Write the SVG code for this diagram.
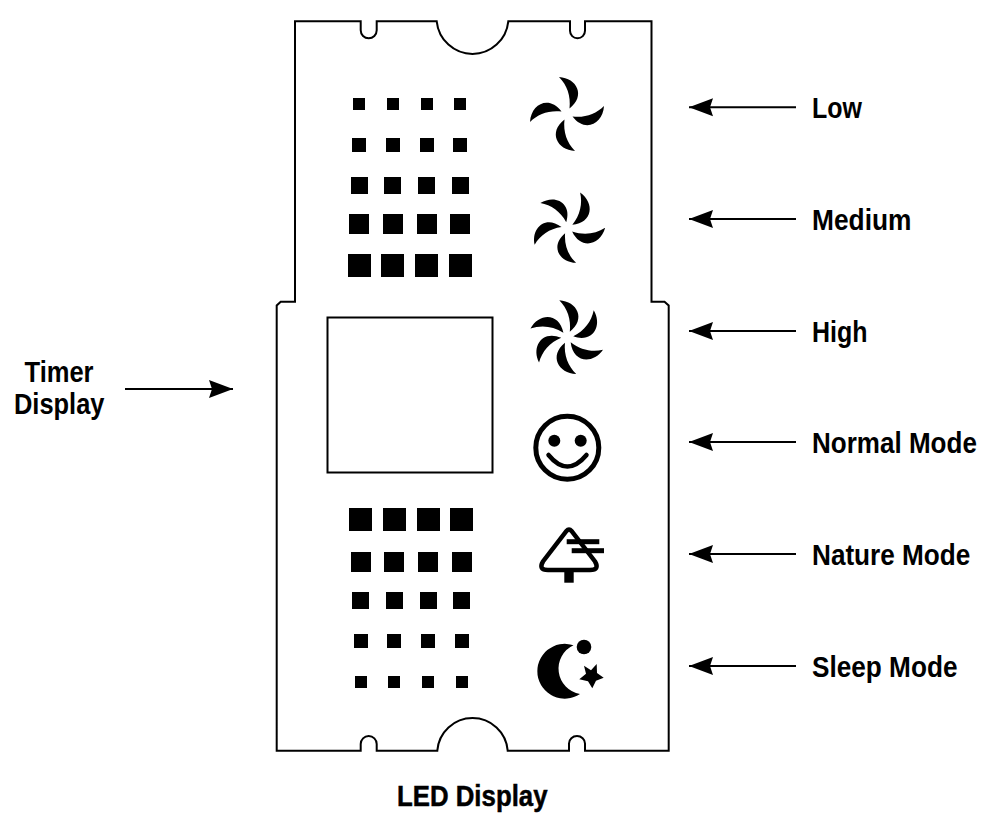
<svg xmlns="http://www.w3.org/2000/svg" width="994" height="823" viewBox="0 0 994 823">
<style>
.lbl{font-family:"Liberation Sans",Arial,sans-serif;font-size:30px;font-weight:700;fill:#000}
.ttl{font-family:"Liberation Sans",Arial,sans-serif;font-size:30px;font-weight:700;fill:#000;stroke:#000;stroke-width:.5}
.ln{fill:none;stroke:#000;stroke-width:2}
.k{fill:#000}
</style>
<defs>
<path id="blade" d="M-8,-37 C10,-36 19,-18 2.5,-5.5 C4,-18 0,-29 -8,-37 Z"/>
<marker id="head" markerUnits="userSpaceOnUse" markerWidth="26" markerHeight="22" refX="24" refY="11" orient="auto">
<path d="M0,2 L24,11 L0,20 L3,11 Z" fill="#000"/>
</marker>
</defs>
<rect width="994" height="823" fill="#fff"/>
<g id="panel">
<path class="ln" d="M295,21.3 H360.7 V30.3 A8,8 0 0 0 376.7,30.3 V21.3 H436.7 A36,36.5 0 0 0 508.3,21.3 H570 V30.8 A7.5,7.5 0 0 0 585,30.8 V21.3 H651.5 V301.7 H664.5 L668.7,305.5 V750.7 H585 V743.5 A8,7.5 0 0 0 569,743.5 V750.7 H507.7 A35.3,35.3 0 0 0 437.3,750.7 H376.7 V744 A8,8 0 0 0 360.7,744 V750.7 H276.7 V305.5 L280.7,301.7 H295 Z"/>
</g>
<g id="timer-display"><rect class="ln" x="327.5" y="317.5" width="165" height="155"/></g>
<g id="upper-bars" class="k">
<rect x="353" y="98" width="12" height="12"/><rect x="387" y="98" width="12" height="12"/><rect x="421" y="98" width="12" height="12"/><rect x="454" y="98" width="12" height="12"/>
<rect x="352" y="138" width="14" height="14"/><rect x="386" y="138" width="14" height="14"/><rect x="420" y="138" width="14" height="14"/><rect x="453" y="138" width="14" height="14"/>
<rect x="351" y="177" width="17" height="17"/><rect x="384" y="177" width="17" height="17"/><rect x="418" y="177" width="17" height="17"/><rect x="452" y="177" width="17" height="17"/>
<rect x="349" y="214" width="20" height="20"/><rect x="383" y="214" width="20" height="20"/><rect x="417" y="214" width="20" height="20"/><rect x="450" y="214" width="20" height="20"/>
<rect x="348" y="254" width="23" height="23"/><rect x="381" y="254" width="23" height="23"/><rect x="415" y="254" width="23" height="23"/><rect x="449" y="254" width="23" height="23"/>
</g>
<g id="lower-bars" class="k">
<rect x="349" y="508" width="23" height="23"/><rect x="383" y="508" width="23" height="23"/><rect x="417" y="508" width="23" height="23"/><rect x="450" y="508" width="23" height="23"/>
<rect x="351" y="552" width="20" height="20"/><rect x="384" y="552" width="20" height="20"/><rect x="418" y="552" width="20" height="20"/><rect x="452" y="552" width="20" height="20"/>
<rect x="352" y="592" width="17" height="17"/><rect x="386" y="592" width="17" height="17"/><rect x="420" y="592" width="17" height="17"/><rect x="453" y="592" width="17" height="17"/>
<rect x="354" y="634" width="14" height="14"/><rect x="387" y="634" width="14" height="14"/><rect x="421" y="634" width="14" height="14"/><rect x="455" y="634" width="14" height="14"/>
<rect x="355" y="676" width="12" height="12"/><rect x="388" y="676" width="12" height="12"/><rect x="422" y="676" width="12" height="12"/><rect x="456" y="676" width="12" height="12"/>
</g>
<g id="fan-low" class="k" transform="translate(567,114)">
<use href="#blade"/><use href="#blade" transform="rotate(90)"/><use href="#blade" transform="rotate(180)"/><use href="#blade" transform="rotate(270)"/>
</g>
<g id="fan-medium" class="k" transform="translate(567.3,228)">
<use href="#blade" transform="rotate(32)"/><use href="#blade" transform="rotate(102)"/><use href="#blade" transform="rotate(178) scale(.95)"/><use href="#blade" transform="rotate(255) scale(.97)"/><use href="#blade" transform="rotate(325) scale(.97)"/>
</g>
<g id="fan-high" class="k" transform="translate(567.3,337.3)">
<use href="#blade"/><use href="#blade" transform="rotate(56.5)"/><use href="#blade" transform="rotate(121.5)"/><use href="#blade" transform="rotate(178.5)"/><use href="#blade" transform="rotate(240.5)"/><use href="#blade" transform="rotate(295.5)"/>
</g>
<g id="smiley">
<circle cx="567.3" cy="447.7" r="31.5" fill="none" stroke="#000" stroke-width="5"/>
<circle class="k" cx="554.3" cy="440.7" r="6"/><circle class="k" cx="580.7" cy="440.7" r="6"/>
<path d="M548.5,455 Q567.3,478 586.5,455" fill="none" stroke="#000" stroke-width="4.5" stroke-linecap="round"/>
</g>
<g id="tree">
<path d="M566.5,531 Q569,528 571.5,531 L595,561.5 Q600,570 590,570 H548 Q538,570 543,561.5 Z" fill="none" stroke="#000" stroke-width="4.5"/>
<rect class="k" x="564.3" y="571" width="9.4" height="11.7"/>
<rect class="k" x="566.7" y="539.2" width="32.6" height="5"/><rect class="k" x="571.7" y="548.2" width="32.3" height="5"/>
</g>
<g id="moon" class="k">
<path d="M573.5,645.3 A27.4,27.4 0 1 0 580,694 A25.7,25.7 0 0 1 573.5,645.3 Z"/>
<circle cx="584" cy="647" r="7.3"/>
<path d="M596.7,664 L597,673 L603.7,677.7 L596,680.8 L592.3,688.3 L588,681.2 L579.3,679.3 L586,673.8 L584,665.7 L591,670.3 Z"/>
</g>
<g id="connectors" class="ln">
<path marker-end="url(#head)" d="M796,107.3 H689"/>
<path marker-end="url(#head)" d="M796,219 H689"/>
<path marker-end="url(#head)" d="M796,331 H689"/>
<path marker-end="url(#head)" d="M796,442 H689"/>
<path marker-end="url(#head)" d="M796,554 H689"/>
<path marker-end="url(#head)" d="M796,666 H689"/>
<path marker-end="url(#head)" d="M125,389 H233"/>
</g>
<g id="labels">
<text class="lbl" transform="translate(812,118.3) scale(.833,1)">Low</text>
<text class="lbl" transform="translate(812,230) scale(.878,1)">Medium</text>
<text class="lbl" transform="translate(812,342) scale(.832,1)">High</text>
<text class="lbl" transform="translate(812,453.3) scale(.868,1)">Normal Mode</text>
<text class="lbl" transform="translate(812,565) scale(.872,1)">Nature Mode</text>
<text class="lbl" transform="translate(812,677) scale(.873,1)">Sleep Mode</text>
<text class="lbl" transform="translate(24.5,381.7) scale(.851,1)">Timer</text>
<text class="lbl" transform="translate(14,414) scale(.848,1)">Display</text>
<text class="ttl" transform="translate(397,806) scale(.86,1)">LED Display</text>
</g>
</svg>
